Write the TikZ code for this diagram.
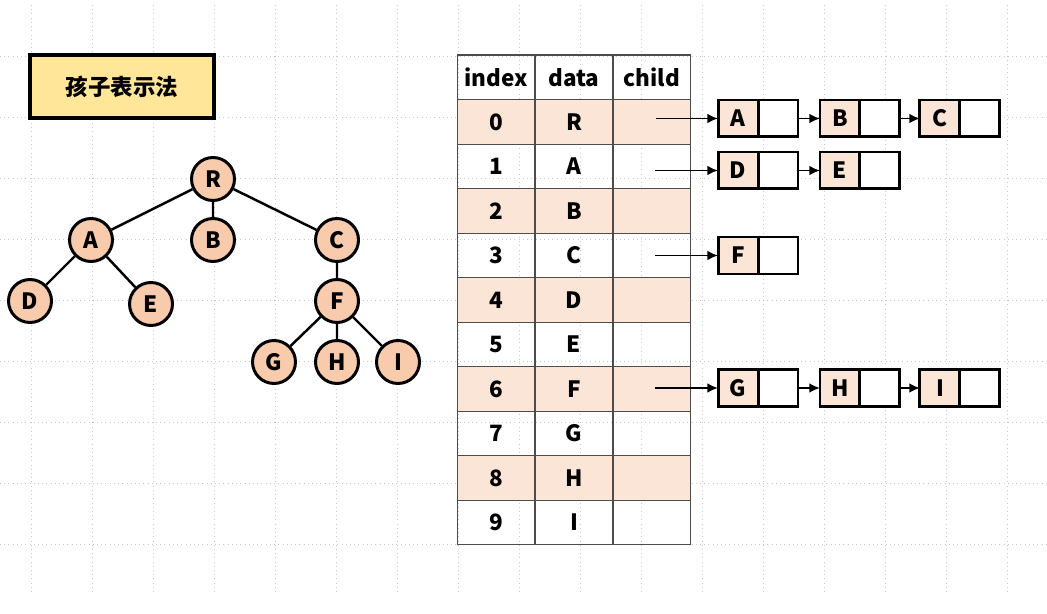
\documentclass[tikz,border=0pt]{standalone}
\usepackage{fontspec}
\setmainfont{Noto Sans CJK SC}
\usepackage{tikz}
\usetikzlibrary{arrows.meta,positioning}
\definecolor{treefill}{HTML}{F8CBAD}
\definecolor{rowfill}{HTML}{FBE5D6}
\definecolor{titlefill}{HTML}{FFE699}
\definecolor{gridgray}{HTML}{C8C8C8}

\begin{document}
\begin{tikzpicture}[x=0.02cm,y=-0.02cm,>={Latex[length=6pt,width=5.5pt]},font=\bfseries\fontsize{12.8}{15}\selectfont]
\tikzstyle{vertex}=[circle, draw, line width=1.7pt, fill=treefill, minimum size=0.86cm, inner sep=0pt]
\tikzstyle{cell}=[draw=black!70, line width=0.8pt, minimum width=1.555cm, minimum height=0.89cm, inner sep=0pt]
\tikzstyle{datacell}=[draw, line width=1.7pt, fill=rowfill, minimum width=0.8cm, minimum height=0.74cm, inner sep=0pt, outer sep=0pt]
\tikzstyle{ptrcell}=[datacell, fill=white]
\tikzstyle{edge}=[line width=1.4pt]

\useasboundingbox (0,0) rectangle (1047,614);
% dotted background grid
\foreach \x in {31,92,...,1007} \draw[gridgray, dotted] (\x,5) -- (\x,595);
\foreach \y in {56,117,...,544} \draw[gridgray, dotted] (0,\y) -- (1047,\y);

\node[draw, line width=1.8pt, fill=titlefill, minimum width=3.68cm, minimum height=1.26cm] (title) at (122,86.5) {孩子表示法};

% tree
\node[vertex] (R) at (213,179) {R};
\node[vertex] (A) at (91,240) {A};
\node[vertex] (B) at (213,240) {B};
\node[vertex] (C) at (337,240) {C};
\node[vertex] (D) at (30,301) {D};
\node[vertex] (E) at (151,304) {E};
\node[vertex] (F) at (337,301) {F};
\node[vertex] (G) at (274,362) {G};
\node[vertex] (H) at (337,362) {H};
\node[vertex] (I) at (398,362) {I};
\draw[edge] (R) -- (A) (R) -- (B) (R) -- (C) (A) -- (D) (A) -- (E)
  (C) -- (F) (F) -- (G) (F) -- (H) (F) -- (I);

% table
\foreach \t [count=\c from 0] in {index,data,child}
  \node[cell] (h\c) at (496.2+77.8*\c,77.3) {\t};
\foreach \d [count=\i from 0] in {R,A,B,C,D,E,F,G,H,I} {
  \pgfmathsetmacro\rowy{122+44.5*\i}
  \ifodd\i \def\bg{none}\else\def\bg{rowfill}\fi
  \node[cell, fill=\bg] (i\i) at (496.2,\rowy) {\i};
  \node[cell, fill=\bg] (d\i) at (574,\rowy) {\d};
  \node[cell, fill=\bg] (c\i) at (651.8,\rowy) {};
}

% child lists
\coordinate (p0) at (656,118.5);
\coordinate (p1) at (655,170.5);
\coordinate (p3) at (655,255.5);
\coordinate (p6) at (655,388);

\node[datacell] (lA) at (738,118.5) {A};
\node[ptrcell, right=0pt of lA] (lAp) {};
\node[datacell, right=0.44cm of lAp] (lB) {B};
\node[ptrcell, right=0pt of lB] (lBp) {};
\node[datacell, right=0.4cm of lBp] (lC) {C};
\node[ptrcell, right=0pt of lC] (lCp) {};

\node[datacell] (lD) at (738,170.5) {D};
\node[ptrcell, right=0pt of lD] (lDp) {};
\node[datacell, right=0.44cm of lDp] (lE) {E};
\node[ptrcell, right=0pt of lE] (lEp) {};

\node[datacell] (lF) at (738,255.5) {F};
\node[ptrcell, right=0pt of lF] (lFp) {};

\node[datacell] (lG) at (738,388) {G};
\node[ptrcell, right=0pt of lG] (lGp) {};
\node[datacell, right=0.44cm of lGp] (lH) {H};
\node[ptrcell, right=0pt of lH] (lHp) {};
\node[datacell, right=0.4cm of lHp] (lI) {I};
\node[ptrcell, right=0pt of lI] (lIp) {};

\draw[->, line width=1.1pt] (p0) -- (lA);
\draw[->, line width=1.1pt] (lAp) -- (lB);
\draw[->, line width=1.1pt] (lBp) -- (lC);
\draw[->, line width=1.1pt] (p1) -- (lD);
\draw[->, line width=1.1pt] (lDp) -- (lE);
\draw[->, line width=1.1pt] (p3) -- (lF);
\draw[->, line width=1.1pt] (p6) -- (lG);
\draw[->, line width=1.1pt] (lGp) -- (lH);
\draw[->, line width=1.1pt] (lHp) -- (lI);
\end{tikzpicture}
\end{document}
